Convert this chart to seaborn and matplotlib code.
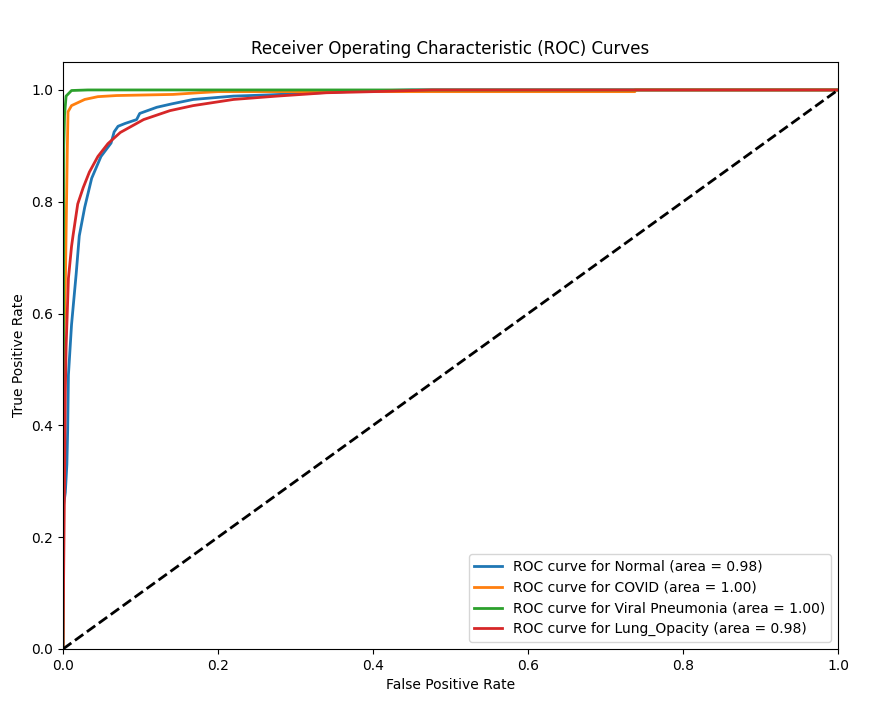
import numpy as np
import pandas as pd
import matplotlib
matplotlib.use('Agg')
import matplotlib.pyplot as plt
import seaborn as sns

# ROC 曲线数据
classes = ['Normal', 'COVID', 'Viral Pneumonia', 'Lung_Opacity']
areas = [0.98, 1.00, 1.00, 0.98]
colors = ['#1f77b4', '#ff7f0e', '#2ca02c', '#d62728']

normal_fpr = [0, 0.0, 0.003, 0.005, 0.006, 0.007, 0.011, 0.017, 0.021, 0.028, 0.037, 0.049,
              0.062, 0.066, 0.071, 0.080, 0.095, 0.099, 0.121, 0.140, 0.168, 0.220, 0.263, 0.383, 0.45, 1.0]
normal_tpr = [0, 0.25, 0.28, 0.33, 0.39, 0.49, 0.58, 0.671, 0.739, 0.79, 0.842, 0.881,
              0.905, 0.925, 0.935, 0.940, 0.947, 0.958, 0.969, 0.975, 0.983, 0.989, 0.991, 0.998, 1.0, 1.0]

covid_fpr = [0, 0.001, 0.003, 0.0056, 0.0065, 0.011, 0.028, 0.045, 0.069, 0.142, 0.175, 0.20, 0.738, 0.738, 1.0]
covid_tpr = [0, 0.54, 0.649, 0.898, 0.961, 0.972, 0.983, 0.988, 0.990, 0.992, 0.995, 0.997, 0.997, 1.0, 1.0]

viral_fpr = [0, 0.001, 0.002, 0.004, 0.011, 0.032, 1.0]
viral_tpr = [0, 0.90, 0.955, 0.989, 0.999, 1.0, 1.0]

lung_fpr = [0, 0.001, 0.002, 0.003, 0.004, 0.007, 0.011, 0.013, 0.019, 0.026, 0.034, 0.045,
            0.058, 0.074, 0.104, 0.138, 0.168, 0.220, 0.276, 0.340, 0.40, 0.476, 1.0]
lung_tpr = [0, 0.16, 0.30, 0.46, 0.54, 0.663, 0.72, 0.74, 0.796, 0.825, 0.853, 0.881,
            0.904, 0.924, 0.947, 0.963, 0.972, 0.983, 0.989, 0.995, 0.997, 1.0, 1.0]

fprs = [normal_fpr, covid_fpr, viral_fpr, lung_fpr]
tprs = [normal_tpr, covid_tpr, viral_tpr, lung_tpr]

fig = plt.figure(figsize=(8.81, 7.05), dpi=100)
for name, area, color, fpr, tpr in zip(classes, areas, colors, fprs, tprs):
    df = pd.DataFrame({'fpr': fpr, 'tpr': tpr})
    sns.lineplot(x='fpr', y='tpr', data=df, sort=False, estimator=None, color=color, lw=2,
                 label=f'ROC curve for {name} (area = {area:.2f})')

plt.plot([0, 1], [0, 1], 'k--', lw=2)
plt.xlim([0.0, 1.0])
plt.ylim([0.0, 1.05])
plt.xlabel('False Positive Rate')
plt.ylabel('True Positive Rate')
plt.title('Receiver Operating Characteristic (ROC) Curves')
plt.legend(loc='lower right')
fig.subplots_adjust(left=63 / 881, right=838 / 881, top=1 - 62 / 705, bottom=1 - 649 / 705)
plt.savefig('out.png', dpi=100)
